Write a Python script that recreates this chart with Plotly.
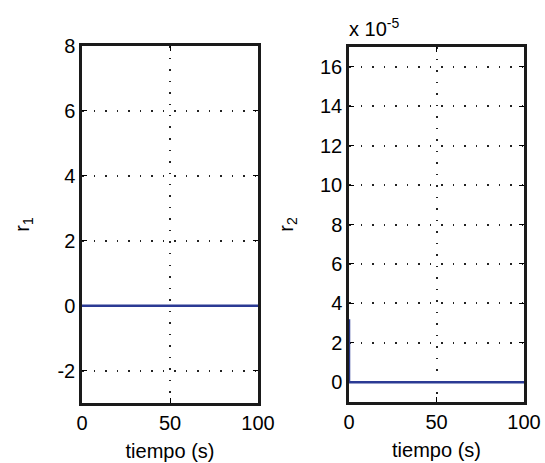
import plotly.graph_objects as go

# data
t1 = [0, 100]
r1 = [0, 0]
t2 = [0, 0, 100]
r2 = [3.2e-5, 0, 0]

x_ticks = [0, 50, 100]
y1_ticks = [-2, 0, 2, 4, 6, 8]
y1_labels = ["-2", "0", "2", "4", "6", "8"]
y2_ticks = [0, 2, 4, 6, 8, 10, 12, 14, 16]

line_color = "#2b3a94"
font = dict(family="Liberation Sans", size=20, color="black")

fig = go.Figure()
fig.add_trace(go.Scatter(x=t1, y=r1, mode="lines", line=dict(color=line_color, width=2.5),
                         xaxis="x", yaxis="y", showlegend=False, cliponaxis=False))
fig.add_trace(go.Scatter(x=t2, y=r2, mode="lines", line=dict(color=line_color, width=2.5),
                         xaxis="x2", yaxis="y2", showlegend=False, cliponaxis=False))

axis_common = dict(showline=True, linewidth=2.5, linecolor="#1a1a1a", mirror="ticks",
                   ticks="inside", ticklen=5, tickwidth=1, tickcolor="black",
                   showgrid=True, gridcolor="#222222", griddash="1.5px,10px", gridwidth=1.5,
                   zeroline=False, tickfont=font, automargin=False, layer="below traces")

fig.update_layout(
    width=545, height=463,
    margin=dict(l=0, r=0, t=0, b=0),
    paper_bgcolor="white", plot_bgcolor="white",
    font=font,
    xaxis=dict(domain=[82/545, 258/545], range=[0, 100], tickvals=x_ticks,
               title=dict(text="tiempo (s)", font=font, standoff=12), anchor="y", **axis_common),
    yaxis=dict(domain=[1-403/463, 1-46/463], range=[-3, 8], tickvals=y1_ticks, ticktext=y1_labels,
               title=dict(text="r<sub>1</sub>", font=font, standoff=23), anchor="x", **axis_common),
    xaxis2=dict(domain=[349/545, 524/545], range=[0, 100], tickvals=x_ticks,
                title=dict(text="tiempo (s)", font=font, standoff=12), anchor="y2", **axis_common),
    yaxis2=dict(domain=[1-402/463, 1-47/463], range=[-1e-5, 17e-5],
                tickvals=[v*1e-5 for v in y2_ticks], ticktext=[str(v) for v in y2_ticks],
                title=dict(text="r<sub>2</sub>", font=font, standoff=22), anchor="x2", **axis_common),
    annotations=[dict(text="x 10<sup>-5</sup>", x=347/545, y=1-27/463, xref="paper", yref="paper",
                      xanchor="left", yanchor="middle", showarrow=False, font=font)],
)

fig.write_html("out.html")
